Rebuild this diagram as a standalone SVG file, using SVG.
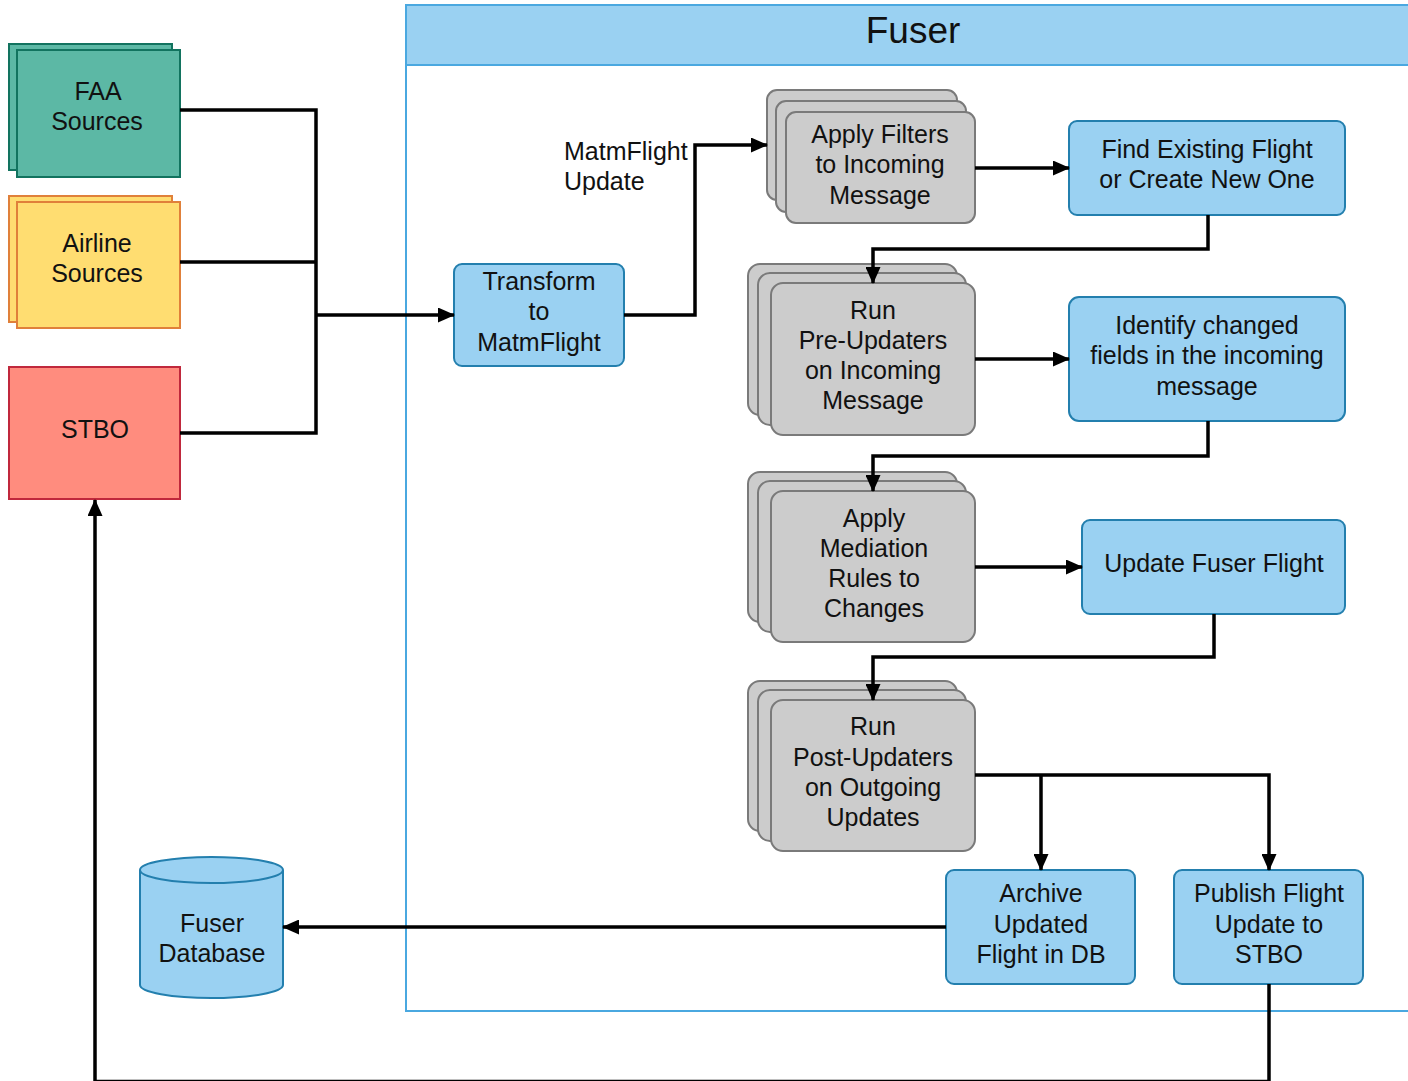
<svg xmlns="http://www.w3.org/2000/svg" width="1408" height="1081" viewBox="0 0 1408 1081">
<defs>
<marker id="arr" markerUnits="userSpaceOnUse" markerWidth="17" markerHeight="15" refX="16" refY="7.5" orient="auto">
<path d="M0,0 L17,7.5 L0,15 Z" fill="#000"/>
</marker>
<style>
text{font-family:"Liberation Sans",Arial,sans-serif;font-size:25px;fill:#111;text-anchor:middle}
.blue{fill:#9ad1f2;stroke:#237fae;stroke-width:2}
.gray{fill:#cccccc;stroke:#7a7a7a;stroke-width:2}
.c{fill:none;stroke:#000;stroke-width:3.5}
</style>
</defs>
<rect width="1408" height="1081" fill="#fff"/>
<g id="fuser">
<rect x="406" y="5" width="1010" height="1006" fill="#fff" stroke="#4aa8e0" stroke-width="2"/>
<rect x="406" y="5" width="1010" height="60" fill="#9ad1f2" stroke="#4aa8e0" stroke-width="2"/>
<text x="913" y="43" style="font-size:37px">Fuser</text>
</g>
<g id="faa">
<rect x="9" y="44" width="163" height="126" fill="#5cb8a5" stroke="#12735f" stroke-width="2"/>
<rect x="17" y="50" width="163" height="127" fill="#5cb8a5" stroke="#12735f" stroke-width="2"/>
<text x="98" y="100">FAA</text><text x="97" y="130">Sources</text>
</g>
<g id="airline">
<rect x="9" y="196" width="163" height="126" fill="#ffdd71" stroke="#e0803a" stroke-width="2"/>
<rect x="17" y="202" width="163" height="126" fill="#ffdd71" stroke="#e0803a" stroke-width="2"/>
<text x="97" y="252">Airline</text><text x="97" y="282">Sources</text>
</g>
<g id="stbo">
<rect x="9" y="367" width="171" height="132" fill="#ff8c7e" stroke="#c0283c" stroke-width="2"/>
<text x="95" y="438">STBO</text>
</g>
<g id="transform">
<rect x="454" y="264" width="170" height="102" rx="8" class="blue"/>
<text x="539" y="290">Transform</text><text x="539" y="320">to</text><text x="539" y="351">MatmFlight</text>
</g>
<g id="filters">
<rect x="767" y="90" width="190" height="110" rx="10" class="gray"/>
<rect x="776" y="101" width="190" height="111" rx="10" class="gray"/>
<rect x="786" y="112" width="189" height="111" rx="10" class="gray"/>
<text x="880" y="143">Apply Filters</text><text x="880" y="173">to Incoming</text><text x="880" y="204">Message</text>
</g>
<g id="find">
<rect x="1069" y="121" width="276" height="94" rx="8" class="blue"/>
<text x="1207" y="158">Find Existing Flight</text><text x="1207" y="188">or Create New One</text>
</g>
<g id="preupdaters">
<rect x="748" y="264" width="209" height="151" rx="12" class="gray"/>
<rect x="758" y="273" width="208" height="152" rx="12" class="gray"/>
<rect x="771" y="283" width="204" height="152" rx="12" class="gray"/>
<text x="873" y="319">Run</text><text x="873" y="349">Pre-Updaters</text><text x="873" y="379">on Incoming</text><text x="873" y="409">Message</text>
</g>
<g id="identify">
<rect x="1069" y="297" width="276" height="124" rx="10" class="blue"/>
<text x="1207" y="334">Identify changed</text><text x="1207" y="364">fields in the incoming</text><text x="1207" y="395">message</text>
</g>
<g id="mediation">
<rect x="748" y="472" width="209" height="150" rx="12" class="gray"/>
<rect x="758" y="481" width="208" height="151" rx="12" class="gray"/>
<rect x="771" y="491" width="204" height="151" rx="12" class="gray"/>
<text x="874" y="527">Apply</text><text x="874" y="557">Mediation</text><text x="874" y="587">Rules to</text><text x="874" y="617">Changes</text>
</g>
<g id="updatefuser">
<rect x="1082" y="520" width="263" height="94" rx="8" class="blue"/>
<text x="1214" y="572">Update Fuser Flight</text>
</g>
<g id="postupdaters">
<rect x="748" y="681" width="209" height="150" rx="12" class="gray"/>
<rect x="758" y="690" width="208" height="151" rx="12" class="gray"/>
<rect x="771" y="700" width="204" height="151" rx="12" class="gray"/>
<text x="873" y="735">Run</text><text x="873" y="766">Post-Updaters</text><text x="873" y="796">on Outgoing</text><text x="873" y="826">Updates</text>
</g>
<g id="archive">
<rect x="946" y="870" width="189" height="114" rx="8" class="blue"/>
<text x="1041" y="902">Archive</text><text x="1041" y="933">Updated</text><text x="1041" y="963">Flight in DB</text>
</g>
<g id="publish">
<rect x="1174" y="870" width="189" height="114" rx="8" class="blue"/>
<text x="1269" y="902">Publish Flight</text><text x="1269" y="933">Update to</text><text x="1269" y="963">STBO</text>
</g>
<g id="database">
<path d="M140,870 L140,985 A71.5,13 0 0 0 283,985 L283,870" class="blue"/>
<ellipse cx="211.5" cy="870" rx="71.5" ry="13" class="blue"/>
<text x="212" y="932">Fuser</text><text x="212" y="962">Database</text>
</g>
<g id="connectors">
<path class="c" d="M180,110 H316 V433 H180"/>
<path class="c" d="M180,262 H316"/>
<path class="c" d="M316,315 H454" marker-end="url(#arr)"/>
<path class="c" d="M624,315 H695 V145 H767" marker-end="url(#arr)"/>
<text x="564" y="160" style="text-anchor:start">MatmFlight</text>
<text x="564" y="190" style="text-anchor:start">Update</text>
<path class="c" d="M975,168 H1069" marker-end="url(#arr)"/>
<path class="c" d="M1208,215 V249 H873 V283" marker-end="url(#arr)"/>
<path class="c" d="M975,359 H1069" marker-end="url(#arr)"/>
<path class="c" d="M1208,421 V456 H873 V491" marker-end="url(#arr)"/>
<path class="c" d="M975,567 H1082" marker-end="url(#arr)"/>
<path class="c" d="M1214,614 V657 H873 V700" marker-end="url(#arr)"/>
<path class="c" d="M975,775 H1269 V870" marker-end="url(#arr)"/>
<path class="c" d="M1041,775 V870" marker-end="url(#arr)"/>
<path class="c" d="M946,927 H283" marker-end="url(#arr)"/>
<path class="c" d="M1269,984 V1081.5 H95 V500" marker-end="url(#arr)"/>
</g>
</svg>
